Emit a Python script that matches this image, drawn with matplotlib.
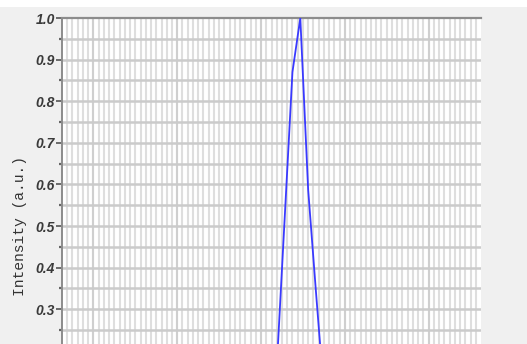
import matplotlib
matplotlib.use("Agg")
import matplotlib.pyplot as plt
from matplotlib.patches import Rectangle
from matplotlib.ticker import MultipleLocator, FixedLocator, FormatStrFormatter

# Spectrum samples (arbitrary x units) and normalised intensity
x_vals = [41.0, 42.5, 44.0, 45.5, 47.0, 48.5, 50.0]
intensity = [0.16, 0.515, 0.87, 1.0, 0.587, 0.34, 0.10]

y_major = [0.2, 0.3, 0.4, 0.5, 0.6, 0.7, 0.8, 0.9, 1.0]
y_label = "Intensity (a.u.)"

W, H = 527, 344
fig = plt.figure(figsize=(W / 100, H / 100), dpi=100, facecolor="#f0f0f0")
fig.patches.append(Rectangle((0, 1 - 7 / H), 1, 7 / H, transform=fig.transFigure,
                             facecolor="white", edgecolor="none", zorder=0))

# plot frame runs past the lower edge of the canvas
left, right, top, bottom = 62, 481, 18, 434
ax = fig.add_axes([left / W, (H - bottom) / H, (right - left) / W, (bottom - top) / H])
ax.set_facecolor("white")
ax.set_xlim(0, 80)
ax.set_ylim(0.0, 1.0)

# dense vertical grid, a few darker guide lines, horizontal grid every 0.05
for xv in range(1, 80):
    ax.axvline(xv, color="#dedede", lw=1.5, zorder=1)
for xv in [6, 22, 38, 54, 70]:
    ax.axvline(xv, color="#cfcfcf", lw=1.5, zorder=1)
for i in range(1, 20):
    ax.axhline(i * 0.05, color="#cbcbcb", lw=1.8, zorder=2)

ax.plot(x_vals, intensity, color="#3a3aff", lw=1.3, zorder=3, clip_on=True)

for s in ["right", "bottom"]:
    ax.spines[s].set_visible(False)
ax.spines["top"].set_color("#8c8c8c")
ax.spines["top"].set_linewidth(1.6)
ax.spines["left"].set_color("#8c8c8c")
ax.spines["left"].set_linewidth(1.4)

ax.set_xticks([])
ax.yaxis.set_major_locator(FixedLocator(y_major))
ax.yaxis.set_minor_locator(MultipleLocator(0.05))
ax.yaxis.set_major_formatter(FormatStrFormatter("%.1f"))
ax.tick_params(axis="y", which="major", length=4, width=1.2, color="#555555",
               pad=1, labelcolor="#3a3a3a")
ax.tick_params(axis="y", which="minor", length=2, width=1.6, color="#666666")
for lab in ax.get_yticklabels():
    lab.set_fontfamily("Liberation Sans")
    lab.set_fontweight("bold")
    lab.set_fontstyle("italic")
    lab.set_fontsize(10)

ax.set_ylabel(y_label, fontfamily="Liberation Mono", fontsize=10.5,
              color="#333333", labelpad=6)

fig.savefig("out.png", dpi=100, facecolor=fig.get_facecolor())
